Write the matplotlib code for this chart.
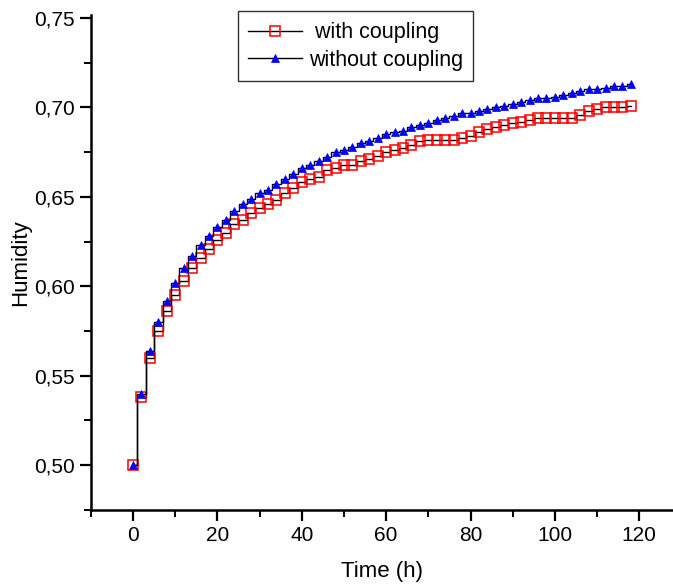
import numpy as np
import matplotlib
matplotlib.use('Agg')
from matplotlib import pyplot as plt
from matplotlib.ticker import MultipleLocator, FuncFormatter

# time points (h), one marker every 2 h
time_h = list(range(0, 120, 2))

hum_with = [0.500, 0.538, 0.560, 0.575, 0.586, 0.595, 0.603, 0.610, 0.616, 0.621,
            0.626, 0.630, 0.635, 0.637, 0.641, 0.644, 0.646, 0.648, 0.652, 0.655,
            0.658, 0.660, 0.661, 0.665, 0.666, 0.668, 0.668, 0.670, 0.671, 0.673,
            0.675, 0.676, 0.677, 0.679, 0.681, 0.682, 0.682, 0.682, 0.682, 0.683,
            0.684, 0.686, 0.688, 0.689, 0.690, 0.691, 0.692, 0.693, 0.694, 0.694,
            0.694, 0.694, 0.694, 0.696, 0.698, 0.699, 0.700, 0.700, 0.700, 0.701]

hum_without = [0.500, 0.540, 0.564, 0.580, 0.592, 0.602, 0.610, 0.617, 0.623, 0.628,
               0.633, 0.637, 0.642, 0.646, 0.649, 0.652, 0.654, 0.657, 0.660, 0.663,
               0.666, 0.668, 0.670, 0.672, 0.675, 0.676, 0.678, 0.680, 0.681, 0.683,
               0.685, 0.686, 0.687, 0.689, 0.690, 0.691, 0.693, 0.694, 0.695, 0.697,
               0.697, 0.698, 0.699, 0.700, 0.701, 0.702, 0.703, 0.704, 0.705, 0.705,
               0.706, 0.707, 0.708, 0.709, 0.710, 0.710, 0.711, 0.712, 0.712, 0.713]

plt.rcParams['font.family'] = ['Liberation Sans', 'DejaVu Sans']

fig = plt.figure(figsize=(6.73, 5.86), dpi=100)
ax = fig.add_axes([0.135, 0.130, 0.865, 0.844])

ax.plot(time_h, hum_with, color='black', lw=1.0, drawstyle='steps-mid',
        marker='s', ms=7.2, mfc='none', mec='red', mew=1.1, label=' with coupling')
ax.plot(time_h, hum_without, color='black', lw=1.0, drawstyle='steps-mid',
        marker='^', ms=5.5, mfc='blue', mec='blue', mew=0.5, label='without coupling')

ax.set_xlim(-10, 128)
ax.set_ylim(0.475, 0.7515)

ax.xaxis.set_major_locator(MultipleLocator(20))
ax.xaxis.set_minor_locator(MultipleLocator(10))
ax.yaxis.set_major_locator(MultipleLocator(0.05))
ax.yaxis.set_minor_locator(MultipleLocator(0.025))
ax.yaxis.set_major_formatter(FuncFormatter(lambda v, p: ('%.2f' % v).replace('.', ',')))

for s in ['top', 'right']:
    ax.spines[s].set_visible(False)
for s in ['left', 'bottom']:
    ax.spines[s].set_linewidth(1.8)

ax.tick_params(which='major', direction='out', length=8, width=1.6, labelsize=15)
ax.tick_params(which='minor', direction='out', length=5, width=1.4)

ax.set_xlabel('Time (h)', fontsize=16, labelpad=12)
ax.set_ylabel('Humidity', fontsize=16, labelpad=2)

leg = ax.legend(loc='upper left', bbox_to_anchor=(0.252, 1.008), fontsize=15.5,
                frameon=True, fancybox=False, edgecolor='black',
                handlelength=2.5, borderpad=0.5, labelspacing=0.3,
                handletextpad=0.3, borderaxespad=0.0)
leg.get_frame().set_linewidth(1.0)

fig.savefig('out.png', dpi=100)
